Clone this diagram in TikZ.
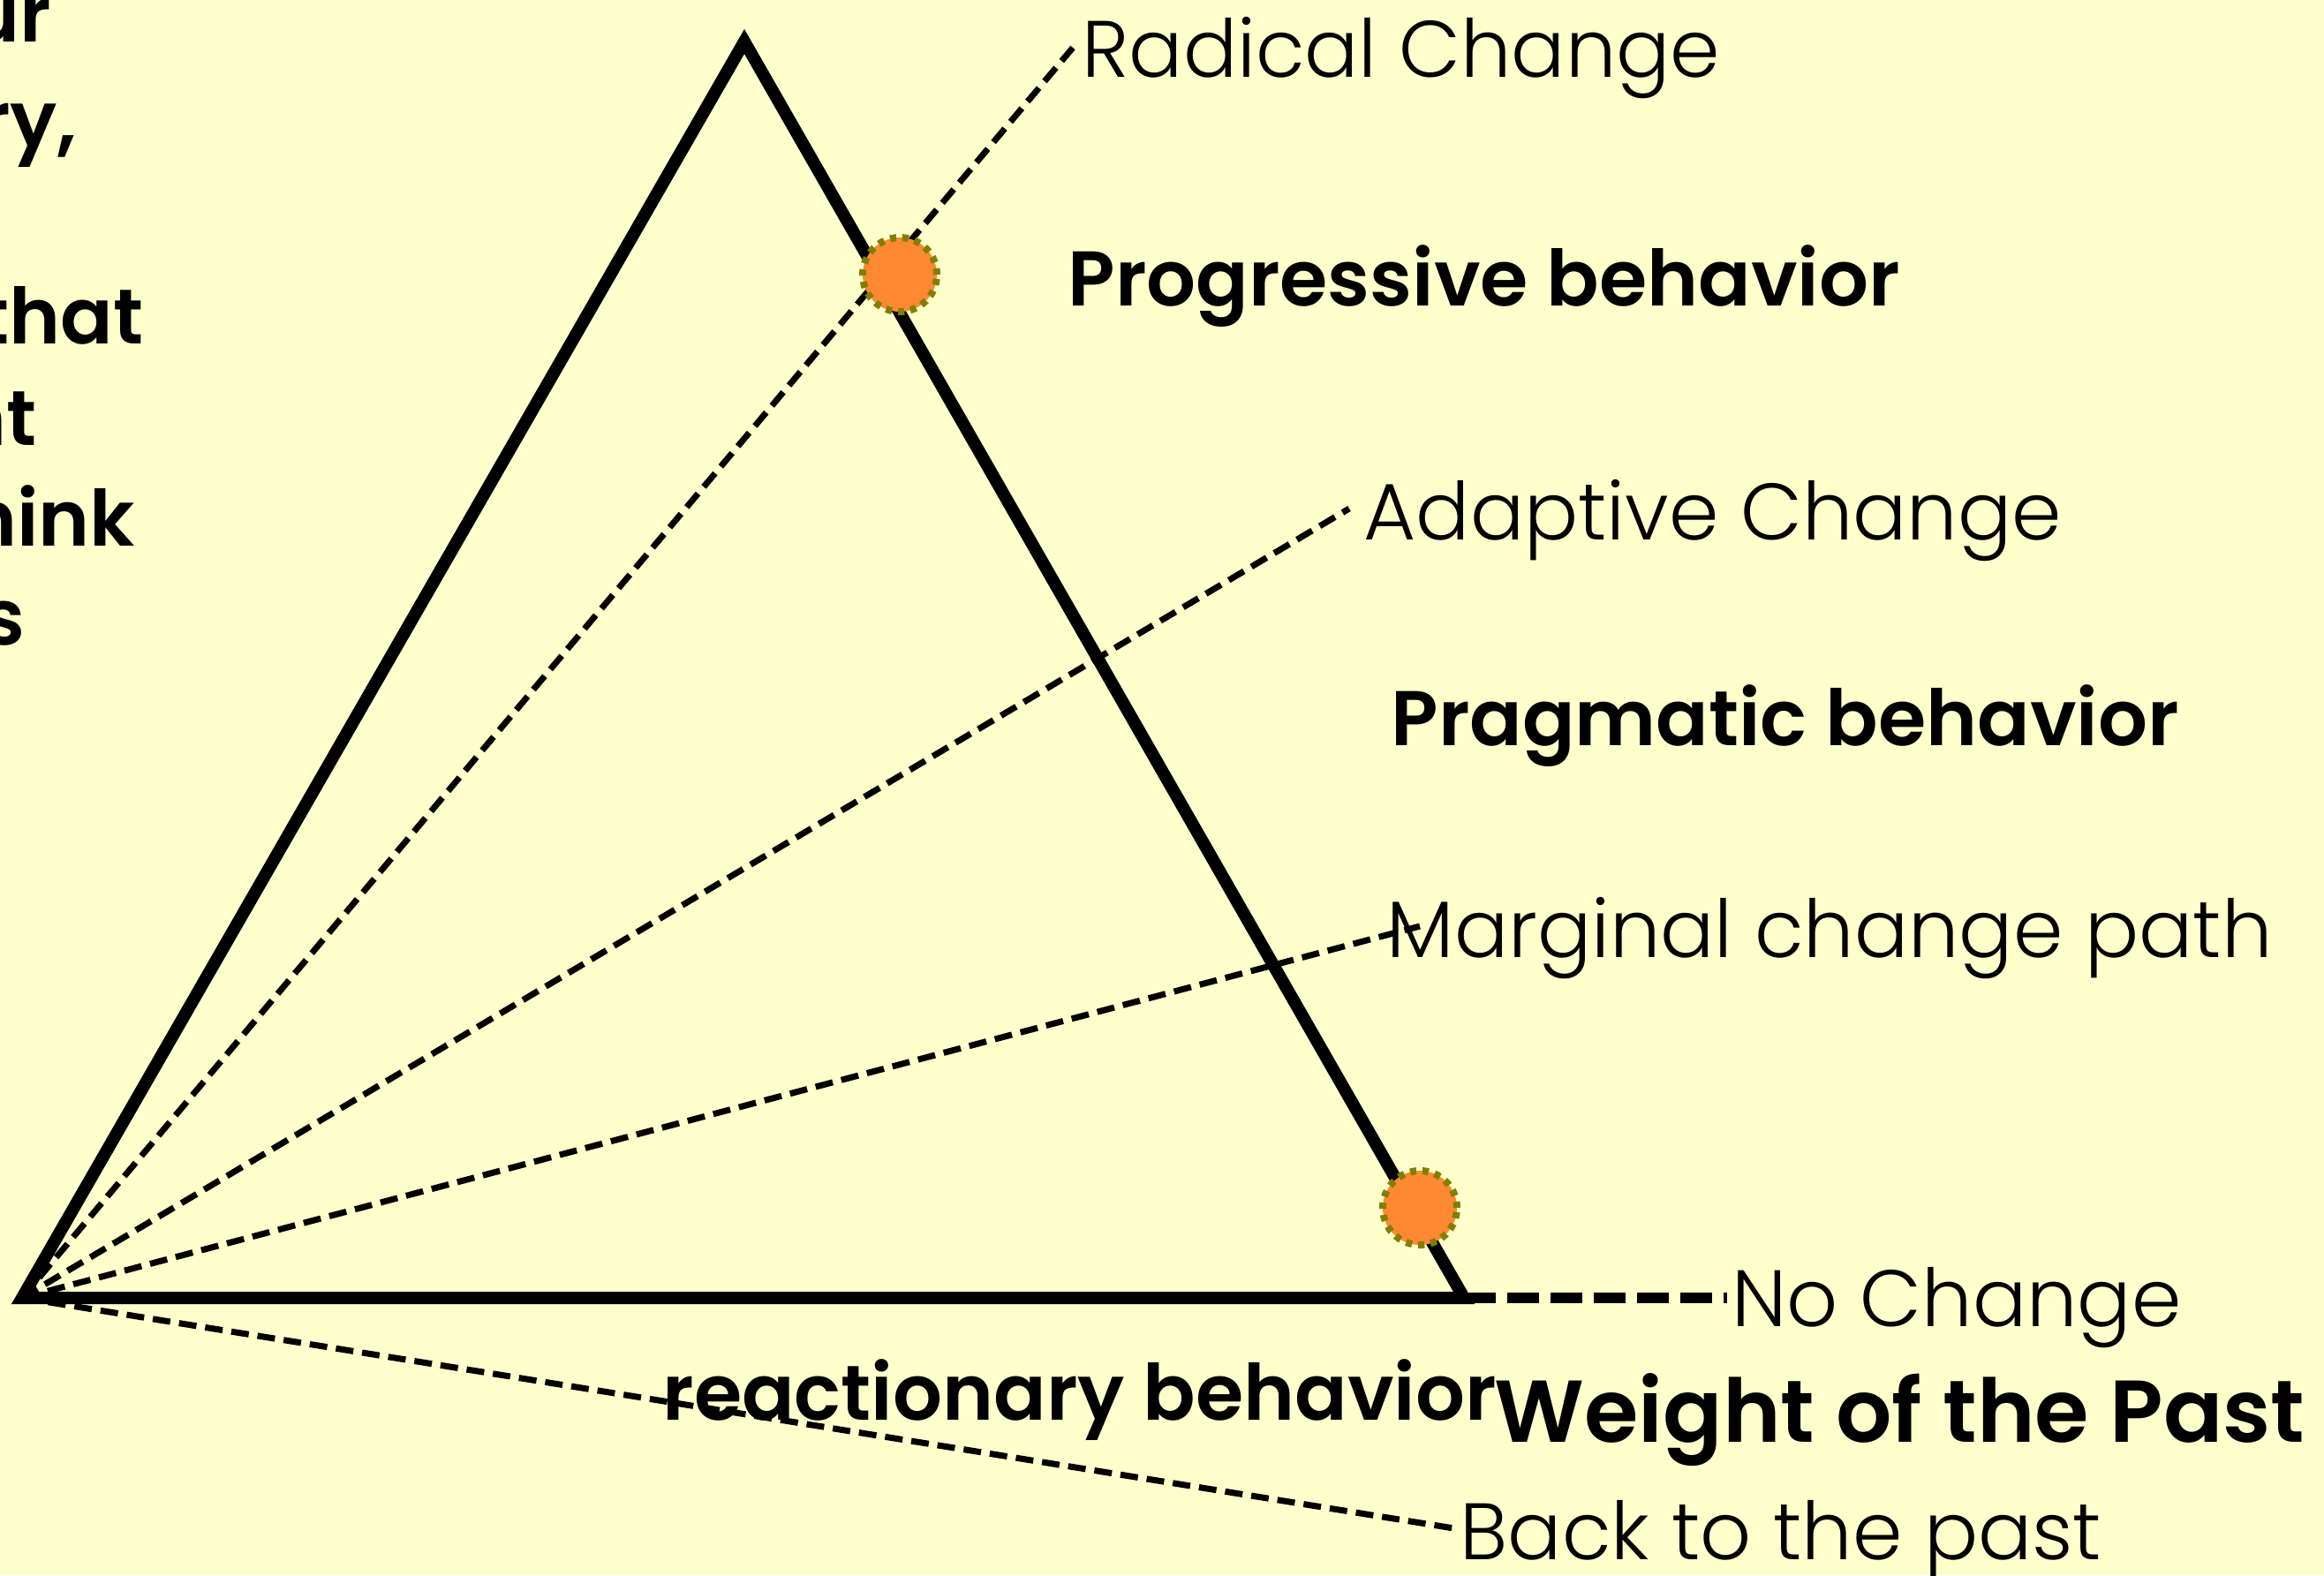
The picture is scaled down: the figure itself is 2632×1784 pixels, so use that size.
\documentclass[tikz,border=0pt]{standalone}
\usepackage{fontspec}
\setmainfont{Poppins}[UprightFont=* Light,BoldFont=* SemiBold]
\usetikzlibrary{positioning}
\definecolor{paper}{HTML}{FFFFCC}
\definecolor{dotfill}{HTML}{FF8833}
\definecolor{dotrim}{HTML}{808000}
\newcommand{\lab}{\fontsize{25.8}{30}\selectfont}
\newcommand{\heavy}{\fontsize{25}{30}\selectfont\bfseries}
\tikzset{edge/.style={line width=1.4mm,line join=miter},
  pathline/.style={line width=0.7mm,dash pattern=on 2mm off 1mm},
  stayline/.style={line width=1.2mm,dash pattern=on 3.6mm off 1.3mm},
  marker/.style={circle,fill=dotfill,draw=dotrim,line width=0.8mm,
    dash pattern=on 0.7mm off 0.7mm,minimum size=8.4mm,inner sep=0},
  tag/.style={anchor=base west,inner sep=0,font=\lab},
  boldtag/.style={anchor=base west,inner sep=0,font=\heavy},
  cut/.style={anchor=base east,inner sep=0,font=\heavy}}
\begin{document}
\begin{tikzpicture}[x=0.1mm,y=-0.1mm]
\fill[paper] (0,0) rectangle (2632,1784);
\useasboundingbox (0,0) rectangle (2632,1784);
% text cut off at the left edge
\node[cut] (t1) at (59,47) {ur};
\node[cut] (t2) at (88,166) {ry,};
\node[cut] (t3) at (163,389) {that};
\node[cut] (t4) at (42,504) {nt};
\node[cut] (t5) at (154,618) {hink};
\node[cut] (t6) at (29,730) {s};
% triangle
\coordinate (apex) at (843,47);
\coordinate (origin) at (25,1470);
\coordinate (corner) at (1658,1470);
% labels
\node[tag] (radlab) at (1225,87) {Radical Change};
\node[boldtag] (proglab) at (1209,346) {Progressive behavior};
\node[tag] (adaplab) at (1544,611) {Adaptive Change};
\node[boldtag] (praglab) at (1575,844) {Pragmatic behavior};
\node[tag] (marglab) at (1570,1084) {Marginal change path};
\node[tag] (nochlab) at (1961,1502) {No Change};
\node[boldtag] (reaclab) at (750,1608) {reactionary behavior};
\node[boldtag,font=\fontsize{28.3}{33}\selectfont\bfseries] (weightlab) at (1692,1633) {Weight of the Past};
\node[tag] (backlab) at (1653,1766) {Back to the past};
% ends of the change paths
\coordinate (radend) at (1215,54);
\coordinate (adapend) at (1528,576);
\coordinate (margend) at (1608,1049);
\coordinate (nochend) at (1956,1470);
\coordinate (backend) at (1653,1732);
\draw[pathline] (origin) -- (radend);
\draw[pathline] (origin) -- (adapend);
\draw[pathline] (origin) -- (margend);
\draw[pathline] (origin) -- (backend);
\draw[stayline] (corner) -- (nochend);
\draw[edge] (origin) -- (apex) -- (corner) -- cycle;
\node[marker] (progdot) at (1019,311) {};
\node[marker] (reacdot) at (1608,1368) {};
\end{tikzpicture}
\end{document}
